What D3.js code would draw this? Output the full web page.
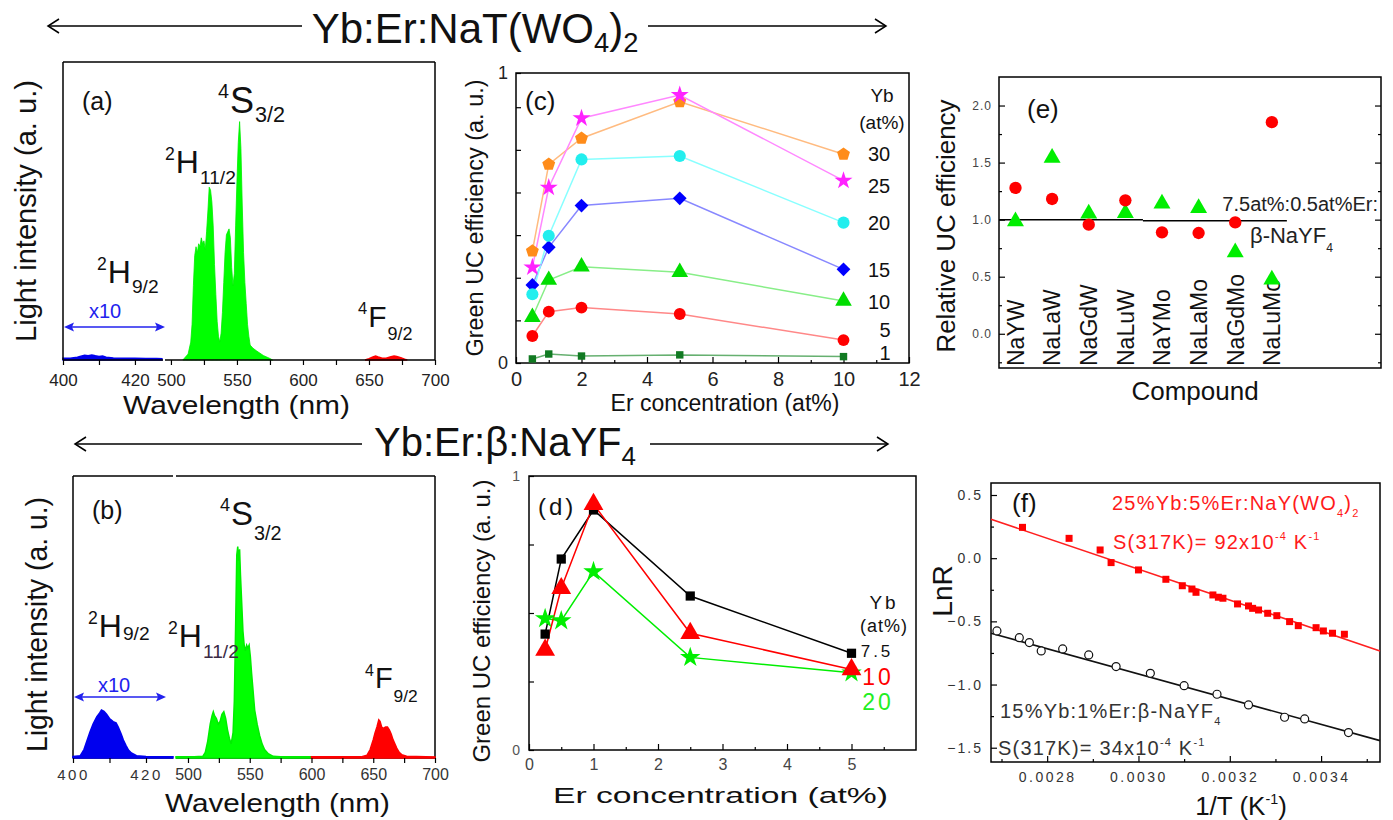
<!DOCTYPE html>
<html><head><meta charset="utf-8">
<script src="https://cdn.jsdelivr.net/npm/d3@7/dist/d3.min.js"></script>
<style>
html,body{margin:0;padding:0;background:#fff;}
svg text{font-family:"Liberation Sans",Arial,Helvetica,sans-serif;}
</style></head><body>
<svg id="chart" width="1393" height="820"></svg>
<script>
// ================= DATA =================
// Titles
const titleTop = [{t:'Yb:Er:NaT(WO'},{t:'4',sub:1},{t:')'},{t:'2',sub:1}];
const titleMid = [{t:'Yb:Er:\u03b2:NaYF'},{t:'4',sub:1}];

// Panel (a) spectrum of Yb:Er:NaY(WO4)2  [wavelength nm, normalised intensity]
const specA_blue = [[400,0.006],[402,0.006],[404,0.009],[405,0.013],[406,0.016],[407,0.014],[408,0.017],[409,0.014],[410,0.012],[411,0.013],[412,0.009],[414,0.007],[417,0.006],[420,0.006],[423,0.005],[426,0.005],[427.5,0.004]];
const specA_green = [[509,0],[511,0.01],[513,0.02],[515,0.06],[516,0.12],[517,0.25],[518,0.35],[519,0.38],[520,0.36],[521,0.39],[522,0.38],[523,0.41],[524,0.39],[525,0.40],[526,0.37],[527,0.43],[528,0.50],[529,0.58],[530,0.57],[531,0.53],[532,0.45],[533,0.32],[534,0.22],[535,0.13],[536,0.08],[537,0.06],[538,0.09],[539,0.16],[540,0.26],[541,0.36],[542,0.42],[543,0.43],[544,0.44],[545,0.41],[546,0.31],[547,0.25],[548,0.29],[549,0.45],[550,0.60],[551,0.73],[552,0.80],[553,0.71],[554,0.52],[555,0.36],[556,0.26],[557,0.19],[558,0.12],[559,0.08],[560,0.05],[562,0.04],[565,0.03],[570,0.015],[575,0.005],[577,0]];
const specA_red = [[647,0],[650,0.004],[653,0.01],[655,0.013],[657,0.01],[660,0.006],[663,0.006],[666,0.01],[669,0.013],[671,0.012],[674,0.008],[677,0.003],[679,0]];
const ticksA_left = [400,410,420];
const ticksA_right = [500,525,550,575,600,625,650,675,700];

// Panel (b) spectrum of Yb:Er:beta-NaYF4
const specB_blue = [[400,0.005],[402,0.008],[403,0.03],[404.6,0.09],[405.5,0.12],[406.5,0.146],[407.3,0.16],[407.8,0.17],[408.5,0.165],[409.2,0.155],[410,0.14],[411,0.129],[411.8,0.125],[412.4,0.11],[413.2,0.085],[413.8,0.064],[414.5,0.045],[415.2,0.028],[416,0.018],[417.4,0.008],[420,0.005],[423,0.004],[427.4,0.004]];
const specB_green = [[490.3,0.004],[505,0.004],[512,0.006],[514,0.02],[516,0.06],[518,0.12],[519.5,0.15],[520.5,0.164],[521.5,0.15],[523,0.14],[524.5,0.12],[526,0.13],[527.5,0.155],[529,0.164],[530.5,0.14],[532,0.1],[533.5,0.07],[535,0.05],[536.5,0.09],[537.5,0.2],[538.5,0.45],[539.5,0.72],[540.3,0.75],[541,0.7],[541.8,0.74],[542.5,0.65],[543.5,0.55],[544.5,0.45],[545.5,0.4],[546.5,0.38],[547.5,0.4],[548.5,0.39],[549.5,0.4],[550.5,0.36],[551.5,0.3],[552.5,0.25],[554,0.17],[556,0.12],[558,0.08],[560,0.05],[562,0.03],[565,0.015],[569,0.006],[575,0.004],[600,0.004]];
const specB_red = [[600,0.004],[640,0.004],[645,0.01],[647.5,0.03],[650,0.065],[651.5,0.09],[653,0.11],[654.5,0.135],[655.5,0.13],[656.8,0.11],[658,0.105],[660,0.11],[661.5,0.11],[663,0.1],[664.5,0.085],[666,0.065],[667.5,0.05],[669,0.035],[671,0.02],[673,0.012],[677,0.006],[700,0.004]];
const ticksB_left = [400,410,420];
const ticksB_right = [500,525,550,575,600,625,650,675,700];

// Panel (c) green UC efficiency vs Er (NaY(WO4)2), one series per Yb at%
const erC = [0.5, 1, 2, 5, 10];
const ybC = ['30','25','20','15','10','5','1'];
const effC_1  = [0.014, 0.031, 0.024, 0.028, 0.022];
const effC_5  = [0.093, 0.177, 0.191, 0.169, 0.079];
const effC_10 = [0.158, 0.286, 0.332, 0.313, 0.214];
const effC_15 = [0.269, 0.399, 0.543, 0.568, 0.323];
const effC_20 = [0.237, 0.439, 0.702, 0.714, 0.484];
const effC_30 = [0.386, 0.685, 0.775, 0.901, 0.720];
const effC_25 = [0.330, 0.605, 0.844, 0.924, 0.629];
const xTicksC = [0,2,4,6,8,10,12];
const xMinorC = [1,3,5,7,9,11];
const yTicksC = [0.147,0.294,0.441,0.588,0.735,0.882];
const yLabelsC = [0,1];

// Panel (d) green UC efficiency vs Er (beta-NaYF4)
const erD = [0.25, 0.5, 1, 2.5, 5];
const effD_75 = [0.423, 0.697, 0.876, 0.562, 0.353];
const effD_10 = [0.365, 0.590, 0.897, 0.426, 0.294];
const effD_20 = [0.480, 0.472, 0.651, 0.338, 0.282];
const xTicksD = [0,1,2,3,4,5];
const xMinorD = [0.5,1.5,2.5,3.5,4.5,5.5];
const yTicksD = [0.25,0.5,0.75];
const yLabelsD = [0,1];

// Panel (e) relative UC efficiency per compound
const compounds = ['NaYW','NaLaW','NaGdW','NaLuW','NaYMo','NaLaMo','NaGdMo','NaLuMo'];
const relRed   = [1.278, 1.181, 0.956, 1.169, 0.889, 0.883, 0.976, 1.854];
const relGreen = [0.985, 1.541, 1.053, 1.058, 1.140, 1.102, 0.713, 0.474];
const refLevels = [{from:0.55, to:4.48, v:1.0},{from:4.48, to:8.41, v:0.99}];
const yTicksE = [0.0,0.5,1.0,1.5,2.0];
const yMinorE = [-0.25,0.25,0.75,1.25,1.75];

// Panel (f) LnR vs 1/T
const invT_WO = [0.002746,0.002848,0.002916,0.002940,0.003000,0.003060,0.003096,0.003117,0.003126,0.003163,0.003175,0.003185,0.003217,0.003241,0.003250,0.003263,0.003283,0.003303,0.003331,0.003350,0.003389,0.003405,0.003425,0.003451];
const lnR_WO  = [0.244,0.157,0.065,-0.035,-0.093,-0.167,-0.218,-0.244,-0.270,-0.291,-0.309,-0.317,-0.362,-0.378,-0.397,-0.410,-0.436,-0.455,-0.502,-0.534,-0.550,-0.576,-0.594,-0.602];
const invT_F = [0.002690,0.002739,0.002761,0.002787,0.002834,0.002891,0.002951,0.003026,0.003100,0.003172,0.003241,0.003320,0.003364,0.003460];
const lnR_F  = [-0.576,-0.629,-0.668,-0.734,-0.718,-0.766,-0.858,-0.911,-1.009,-1.077,-1.161,-1.259,-1.272,-1.380];
const fitWO = [[0.002677,0.308],[0.003529,-0.734]];
const fitF  = [[0.002677,-0.594],[0.003529,-1.444]];
const xTicksF = [0.0028,0.0030,0.0032,0.0034];
const xMinorF = [0.0027,0.0029,0.0031,0.0033,0.0035];
const yTicksF = [0.5,0.0,-0.5,-1.0,-1.5];
const yMinorF = [0.25,-0.25,-0.75,-1.25];

// ================= DRAWING =================
const FONT = '"Liberation Sans", Arial, Helvetica, sans-serif';
const svg = d3.select('#chart');

function drawAxis(g, axisFn, scale, vals, fmt, size, pad, st) {
  st = st || {};
  const ax = axisFn(scale).tickValues(vals).tickFormat(fmt).tickSizeInner(size).tickSizeOuter(0).tickPadding(pad);
  g.call(ax);
  g.select('.domain').remove();
  g.selectAll('.tick line').attr('stroke','#000').attr('stroke-width',1.2);
  g.selectAll('.tick text').attr('font-family',FONT).attr('font-size',st.fs||14)
    .attr('fill',st.col||'#222').style('letter-spacing',(st.ls||0)+'px');
}
function rich(g, x, y, segs, fs, o) {
  o = o || {};
  const t = g.append('text').attr('x',x).attr('y',y).attr('font-size',fs)
    .attr('fill',o.col||'#111').attr('text-anchor',o.anchor||'start');
  if (o.ls) t.style('letter-spacing',o.ls+'px');
  let shift = 0;
  segs.forEach(s => {
    const target = s.sub ? fs*(o.subDn||0.28) : s.sup ? -fs*(o.supUp||0.42) : 0;
    t.append('tspan').attr('dy', target - shift).attr('font-size',(s.sub||s.sup)? fs*(o.ss||0.6) : fs).text(s.t);
    shift = target;
  });
  return t;
}
function level(g, x, y, sup, main, sub, fs, o) {
  o = o || {};
  const ss = 0.55, col = o.col || '#111';
  const t1 = g.append('text').attr('x',x).attr('y',y-(o.supUp||0.42*fs)).attr('font-size',fs*ss).attr('fill',col).text(sup);
  const w1 = t1.node().getComputedTextLength();
  const t2 = g.append('text').attr('x',x+w1+1).attr('y',y).attr('font-size',fs).attr('fill',col).text(main);
  const w2 = t2.node().getComputedTextLength();
  g.append('text').attr('x',x+w1+w2+2).attr('y',y+(o.subDn||0.3*fs)).attr('font-size',fs*0.6).attr('fill',o.subCol||col).text(sub);
}
function vtext(g, x, y, str, fs, o) {
  o = o || {};
  const t = g.append('text').attr('transform',`translate(${x},${y}) rotate(-90)`)
    .attr('text-anchor','middle').attr('font-size',fs).attr('fill',o.col||'#111').text(str);
  if (o.len) t.attr('textLength',o.len).attr('lengthAdjust','spacingAndGlyphs');
  return t;
}
function htext(g, x, y, str, fs, o) {
  o = o || {};
  const t = g.append('text').attr('x',x).attr('y',y).attr('text-anchor',o.anchor||'middle')
    .attr('font-size',fs).attr('fill',o.col||'#111').text(str);
  if (o.len) t.attr('textLength',o.len).attr('lengthAdjust','spacingAndGlyphs');
  if (o.ls) t.style('letter-spacing',o.ls+'px');
  return t;
}
function hline(g,x1,y1,x2,y2,w,c){ g.append('line').attr('x1',x1).attr('y1',y1).attr('x2',x2).attr('y2',y2).attr('stroke',c||'#000').attr('stroke-width',w||1.5); }
function dblArrow(g, x1, x2, y, col) {
  hline(g, x1+6, y, x2-6, y, 1.5, col);
  g.append('path').attr('d',`M${x1},${y} L${x1+10},${y-4.5} L${x1+8},${y} L${x1+10},${y+4.5} Z`).attr('fill',col);
  g.append('path').attr('d',`M${x2},${y} L${x2-10},${y-4.5} L${x2-8},${y} L${x2-10},${y+4.5} Z`).attr('fill',col);
}
function titleArrow(g, x1, x2, y, dir) {
  hline(g, x1, y, x2, y, 1.5);
  const tx = dir < 0 ? x1 : x2;
  const s = dir < 0 ? 1 : -1;
  g.append('path').attr('d',`M${tx+s*11},${y-7} L${tx},${y} L${tx+s*11},${y+7}`).attr('fill','none').attr('stroke','#000').attr('stroke-width',1.5);
}
// custom symbols
const symPentagon = { draw(ctx, size){ const r = Math.sqrt(size/2.378); for(let k=0;k<5;k++){ const a=-Math.PI/2+k*2*Math.PI/5; const px=r*Math.cos(a), py=r*Math.sin(a); k?ctx.lineTo(px,py):ctx.moveTo(px,py);} ctx.closePath(); } };
const symDiamond = { draw(ctx, size){ const r = Math.sqrt(size/2); ctx.moveTo(0,-r); ctx.lineTo(r,0); ctx.lineTo(0,r); ctx.lineTo(-r,0); ctx.closePath(); } };

// ---------- Titles ----------
const gT = svg.append('g');
rich(gT, 475, 43, titleTop, 42, {anchor:'middle', subDn:0.22, ss:0.65});
titleArrow(gT, 48, 302, 26, -1);
titleArrow(gT, 648, 886, 26, 1);
rich(gT, 505, 456, titleMid, 40, {anchor:'middle', subDn:0.22, ss:0.65});
titleArrow(gT, 75, 362, 444, -1);
titleArrow(gT, 650, 888, 444, 1);

// ---------- Panel (a) ----------
(function(){
  const g = svg.append('g');
  const xL = d3.scaleLinear([400,427.8],[63,163]);
  const xR = d3.scaleLinear([495.5,700],[165,435]);
  const y = d3.scaleLinear([0,1],[360,62]);
  const areaL = d3.area().x(d=>xL(d[0])).y0(y(0)).y1(d=>y(d[1]));
  const areaR = d3.area().x(d=>xR(d[0])).y0(y(0)).y1(d=>y(d[1]));
  g.append('path').datum(specA_blue).attr('d',areaL).attr('fill','#0000ee').attr('stroke','#0000ee').attr('stroke-width',1.5);
  g.append('path').datum(specA_green).attr('d',areaR).attr('fill','#00ff00').attr('stroke','#00ee00').attr('stroke-width',0.8);
  g.append('path').datum(specA_red).attr('d',areaR).attr('fill','#ff0000').attr('stroke','#ff0000').attr('stroke-width',1.5);
  hline(g,63,62,435,62); hline(g,63,62,63,360); hline(g,435,62,435,360);
  hline(g,63,360,163,360); hline(g,165,360,435,360);
  const aL = g.append('g').attr('transform','translate(0,360)');
  drawAxis(aL, d3.axisBottom, xL, ticksA_left, d=> (d%20===0? d : ''), 5, 9, {fs:17,col:'#222'});
  const aR = g.append('g').attr('transform','translate(0,360)');
  drawAxis(aR, d3.axisBottom, xR, ticksA_right, d=> (d%50===0? d : ''), 5, 9, {fs:17,col:'#222'});
  htext(g, 236.5, 414, 'Wavelength (nm)', 25, {len:227});
  vtext(g, 36, 211, 'Light intensity (a. u.)', 29, {len:262});
  htext(g, 82, 110, '(a)', 25, {anchor:'start'});
  level(g, 218, 113, '4','S','3/2', 36, {subDn:9});
  level(g, 165, 173, '2','H','11/2', 32, {subDn:11});
  level(g, 97, 283, '2','H','9/2', 32, {subDn:10});
  level(g, 358, 327, '4','F','9/2', 30, {subDn:13});
  dblArrow(g, 64, 165, 327, '#2222ee');
  htext(g, 105, 318, 'x10', 20, {col:'#2222ee'});
})();

// ---------- Panel (b) ----------
(function(){
  const g = svg.append('g');
  const xL = d3.scaleLinear([400,427.4],[73,173]);
  const xR = d3.scaleLinear([490.3,700],[176,435]);
  const y = d3.scaleLinear([0,1],[758,476]);
  const areaL = d3.area().x(d=>xL(d[0])).y0(y(0)).y1(d=>y(d[1]));
  const areaR = d3.area().x(d=>xR(d[0])).y0(y(0)).y1(d=>y(d[1]));
  hline(g,73,476,173,476); hline(g,176,476,435,476); hline(g,73,476,73,758); hline(g,435,476,435,758);
  hline(g,73,758,173,758); hline(g,176,758,435,758);
  g.append('path').datum(specB_blue).attr('d',areaL).attr('fill','#0000ee').attr('stroke','#0000ee').attr('stroke-width',1.5);
  g.append('path').datum(specB_green).attr('d',areaR).attr('fill','#00ff00').attr('stroke','#00ee00').attr('stroke-width',1.5);
  g.append('path').datum(specB_red).attr('d',areaR).attr('fill','#ff0000').attr('stroke','#ff0000').attr('stroke-width',1.5);
  const aL = g.append('g').attr('transform','translate(0,758)');
  drawAxis(aL, d3.axisBottom, xL, ticksB_left, d=> (d%20===0? d : ''), 5, 6, {fs:15,col:'#333',ls:2.5});
  const aR = g.append('g').attr('transform','translate(0,758)');
  drawAxis(aR, d3.axisBottom, xR, ticksB_right, d=> (d%50===0? d : ''), 5, 6, {fs:16,col:'#333'});
  htext(g, 277.5, 812, 'Wavelength (nm)', 25, {len:225});
  vtext(g, 47, 624.5, 'Light intensity (a. u.)', 29, {len:255});
  htext(g, 92, 519, '(b)', 25, {anchor:'start'});
  level(g, 220, 525, '4','S','3/2', 33, {subDn:15});
  level(g, 168, 647, '2','H','11/2', 32, {subDn:11, subCol:'#3a2a44'});
  level(g, 88, 637, '2','H','9/2', 32, {subDn:3});
  level(g, 365, 688, '4','F','9/2', 29, {subDn:14});
  dblArrow(g, 74, 166, 697, '#2222ee');
  htext(g, 114, 692, 'x10', 20, {col:'#2222ee'});
})();

// ---------- Panel (c) ----------
(function(){
  const g = svg.append('g');
  const x = d3.scaleLinear([0,12],[516,909]);
  const y = d3.scaleLinear([0,1],[363,73]);
  g.append('rect').attr('x',516).attr('y',73).attr('width',393).attr('height',290).attr('fill','none').attr('stroke','#000').attr('stroke-width',1.5);
  const ax = g.append('g').attr('transform','translate(0,363)');
  drawAxis(ax, d3.axisBottom, x, xTicksC, d=>d, -6, 9, {fs:20,col:'#222'});
  const axm = g.append('g').attr('transform','translate(0,363)');
  drawAxis(axm, d3.axisBottom, x, xMinorC, ()=> '', -3, 9, {});
  const ay = g.append('g').attr('transform','translate(516,0)');
  drawAxis(ay, d3.axisLeft, y, yLabelsC, d=>d, -5, 8, {fs:18,col:'#222'});
  const aym = g.append('g').attr('transform','translate(516,0)');
  drawAxis(aym, d3.axisLeft, y, yTicksC, ()=>'', -5, 8, {});
  const series = [
    {v:effC_1,  c:'#117a22', lc:'#66b070', sym:d3.symbolSquare, s:55},
    {v:effC_5,  c:'#ff0000', lc:'#ff8888', sym:d3.symbolCircle, s:110},
    {v:effC_10, c:'#00dd00', lc:'#88ee88', sym:d3.symbolTriangle, s:120},
    {v:effC_15, c:'#0000ff', lc:'#8888ff', sym:symDiamond, s:95},
    {v:effC_20, c:'#22eeee', lc:'#88ffff', sym:d3.symbolCircle, s:115},
    {v:effC_30, c:'#ff8c1a', lc:'#ffbb80', sym:symPentagon, s:110},
    {v:effC_25, c:'#ff22ff', lc:'#ff88ff', sym:d3.symbolStar, s:100}
  ];
  const line = d3.line().x((d,i)=>x(erC[i])).y(d=>y(d));
  series.forEach(s=>{
    g.append('path').datum(s.v).attr('d',line).attr('fill','none').attr('stroke',s.lc).attr('stroke-width',1.5);
  });
  series.forEach(s=>{
    g.selectAll(null).data(s.v).enter().append('path')
      .attr('transform',(d,i)=>`translate(${x(erC[i])},${y(d)})`)
      .attr('d',d3.symbol().type(s.sym).size(s.s)).attr('fill',s.c);
  });
  htext(g, 725, 411, 'Er concentration (at%)', 23);
  vtext(g, 483, 218, 'Green UC efficiency (a. u.)', 23, {len:277});
  htext(g, 525, 110, '(c)', 26, {anchor:'start'});
  htext(g, 882, 102, 'Yb', 19);
  htext(g, 882, 129, '(at%)', 19);
  const yLabY = [161,193,230,277,309,337,360];
  ybC.forEach((d,i)=>htext(g, d.length>1?879:885, yLabY[i], d, 20));
})();

// ---------- Panel (d) ----------
(function(){
  const g = svg.append('g');
  const x = d3.scaleLinear([0,6],[529,916]);
  const y = d3.scaleLinear([0,1],[750,476]);
  g.append('rect').attr('x',529).attr('y',476).attr('width',387).attr('height',274).attr('fill','none').attr('stroke','#000').attr('stroke-width',1.5);
  const ax = g.append('g').attr('transform','translate(0,750)');
  drawAxis(ax, d3.axisBottom, x, xTicksD, d=>d, -6, 9, {fs:16,col:'#444'});
  const axm = g.append('g').attr('transform','translate(0,750)');
  drawAxis(axm, d3.axisBottom, x, xMinorD, ()=>'', -3, 9, {});
  const ay = g.append('g').attr('transform','translate(529,0)');
  drawAxis(ay, d3.axisLeft, y, yLabelsD, d=>d, -5, 9, {fs:14,col:'#555'});
  const aym = g.append('g').attr('transform','translate(529,0)');
  drawAxis(aym, d3.axisLeft, y, yTicksD, ()=>'', -5, 9, {});
  const series = [
    {v:effD_75, c:'#000000', sym:d3.symbolSquare, s:85},
    {v:effD_20, c:'#00ee00', sym:d3.symbolStar, s:130},
    {v:effD_10, c:'#ff0000', sym:d3.symbolTriangle, s:170}
  ];
  const line = d3.line().x((d,i)=>x(erD[i])).y(d=>y(d));
  series.forEach(s=>{
    g.append('path').datum(s.v).attr('d',line).attr('fill','none').attr('stroke',s.c).attr('stroke-width',1.5);
  });
  series.forEach(s=>{
    g.selectAll(null).data(s.v).enter().append('path')
      .attr('transform',(d,i)=>`translate(${x(erD[i])},${y(d)})`)
      .attr('d',d3.symbol().type(s.sym).size(s.s)).attr('fill',s.c);
  });
  htext(g, 720.5, 803, 'Er concentration (at%)', 22, {len:335});
  vtext(g, 490, 621, 'Green UC efficiency (a. u.)', 24, {len:283});
  htext(g, 538, 515, '(d)', 24, {anchor:'start', ls:3});
  htext(g, 884, 609, 'Yb', 19, {ls:3});
  htext(g, 884, 632, '(at%)', 18, {ls:1});
  htext(g, 877, 657, '7.5', 17, {ls:3});
  htext(g, 878, 685, '10', 23, {col:'#ff0000', ls:3});
  htext(g, 878, 710, '20', 23, {col:'#22ee22', ls:3});
})();

// ---------- Panel (e) ----------
(function(){
  const g = svg.append('g');
  const x = d3.scaleLinear([0.55,10.98],[999,1381]);
  const y = d3.scaleLinear([-0.3,2.25],[368,77]);
  g.append('rect').attr('x',999).attr('y',77).attr('width',382).attr('height',291).attr('fill','none').attr('stroke','#000').attr('stroke-width',1.5);
  const ay = g.append('g').attr('transform','translate(999,0)');
  drawAxis(ay, d3.axisLeft, y, yTicksE, d3.format('.1f'), -6, 7, {fs:12,col:'#444',ls:1});
  const aym = g.append('g').attr('transform','translate(999,0)');
  drawAxis(aym, d3.axisLeft, y, yMinorE, ()=>'', -3, 7, {});
  const ayr = g.append('g').attr('transform','translate(1381,0)');
  drawAxis(ayr, d3.axisRight, y, yTicksE, ()=>'', -6, 7, {});
  const ayrm = g.append('g').attr('transform','translate(1381,0)');
  drawAxis(ayrm, d3.axisRight, y, yMinorE, ()=>'', -3, 7, {});
  refLevels.forEach(r=> g.append('line').attr('x1',x(r.from)).attr('x2',x(r.to)).attr('y1',y(r.v)).attr('y2',y(r.v)).attr('stroke','#000').attr('stroke-width',1.5));
  compounds.forEach((c,i)=>{
    g.append('text').attr('transform',`translate(${x(i+1)},366) rotate(-90)`).attr('dy','0.36em')
      .attr('font-size',23).attr('fill','#111').text(c);
  });
  g.selectAll(null).data(relGreen).enter().append('path')
    .attr('transform',(d,i)=>`translate(${x(i+1)},${y(d)})`)
    .attr('d',d3.symbol().type(d3.symbolTriangle).size(125)).attr('fill','#00ee00');
  g.selectAll(null).data(relRed).enter().append('path')
    .attr('transform',(d,i)=>`translate(${x(i+1)},${y(d)})`)
    .attr('d',d3.symbol().type(d3.symbolCircle).size(120)).attr('fill','#ff0000');
  htext(g, 1378, 211, '7.5at%:0.5at%Er:', 20, {anchor:'end', col:'#222'});
  rich(g, 1250, 243, [{t:'\u03b2-NaYF'},{t:'4',sub:1}], 22, {col:'#222', subDn:0.4, ss:0.55});
  htext(g, 1027, 118, '(e)', 26, {anchor:'start'});
  htext(g, 1195, 400, 'Compound', 26);
  vtext(g, 955, 226, 'Relative UC efficiency', 25, {len:253});
})();

// ---------- Panel (f) ----------
(function(){
  const g = svg.append('g');
  const x = d3.scaleLinear([0.002677,0.003529],[991,1380]);
  const y = d3.scaleLinear([-1.613,0.595],[762,483]);
  g.append('rect').attr('x',991).attr('y',483).attr('width',389).attr('height',279).attr('fill','none').attr('stroke','#000').attr('stroke-width',1.5);
  const ax = g.append('g').attr('transform','translate(0,762)');
  drawAxis(ax, d3.axisBottom, x, xTicksF, d3.format('.4f'), -6, 10, {fs:14,col:'#333',ls:2.5});
  const axm = g.append('g').attr('transform','translate(0,762)');
  drawAxis(axm, d3.axisBottom, x, xMinorF, ()=>'', -3, 10, {});
  const ay = g.append('g').attr('transform','translate(991,0)');
  drawAxis(ay, d3.axisLeft, y, yTicksF, d3.format('.1f'), -6, 8, {fs:14,col:'#333',ls:2});
  const aym = g.append('g').attr('transform','translate(991,0)');
  drawAxis(aym, d3.axisLeft, y, yMinorF, ()=>'', -3, 8, {});
  const line = d3.line().x(d=>x(d[0])).y(d=>y(d[1]));
  g.append('path').datum(fitWO).attr('d',line).attr('stroke','#ff2020').attr('stroke-width',1.6).attr('fill','none');
  g.append('path').datum(fitF).attr('d',line).attr('stroke','#111').attr('stroke-width',1.6).attr('fill','none');
  g.selectAll(null).data(lnR_WO).enter().append('rect')
    .attr('x',(d,i)=>x(invT_WO[i])-3.5).attr('y',d=>y(d)-3.5).attr('width',7).attr('height',7).attr('fill','#ff0000');
  g.selectAll(null).data(lnR_F).enter().append('circle')
    .attr('cx',(d,i)=>x(invT_F[i])).attr('cy',d=>y(d)).attr('r',4).attr('fill','#fff').attr('stroke','#111').attr('stroke-width',1.2);
  htext(g, 1012, 512, '(f)', 26, {anchor:'start'});
  rich(g, 1112, 510, [{t:'25%Yb:5%Er:NaY(WO'},{t:'4',sub:1},{t:')'},{t:'2',sub:1}], 20, {col:'#ff1a1a', ls:1.2, ss:0.55, subDn:0.35});
  rich(g, 1113, 549, [{t:'S(317K)= 92x10'},{t:'-4',sup:1},{t:' K'},{t:'-1',sup:1}], 20, {col:'#ff1a1a', ls:1.2, ss:0.55, supUp:0.45});
  rich(g, 1000, 718, [{t:'15%Yb:1%Er:\u03b2-NaYF'},{t:'4',sub:1}], 20, {col:'#333', ls:1.2, ss:0.55, subDn:0.35});
  rich(g, 998, 755, [{t:'S(317K)= 34x10'},{t:'-4',sup:1},{t:' K'},{t:'-1',sup:1}], 20, {col:'#333', ls:1.2, ss:0.55, supUp:0.45});
  vtext(g, 952, 591, 'LnR', 28);
  rich(g, 1241, 815, [{t:'1/T (K'},{t:'-1',sup:1},{t:')'}], 26, {anchor:'middle', col:'#111', ss:0.55});
})();
</script>
</body></html>
